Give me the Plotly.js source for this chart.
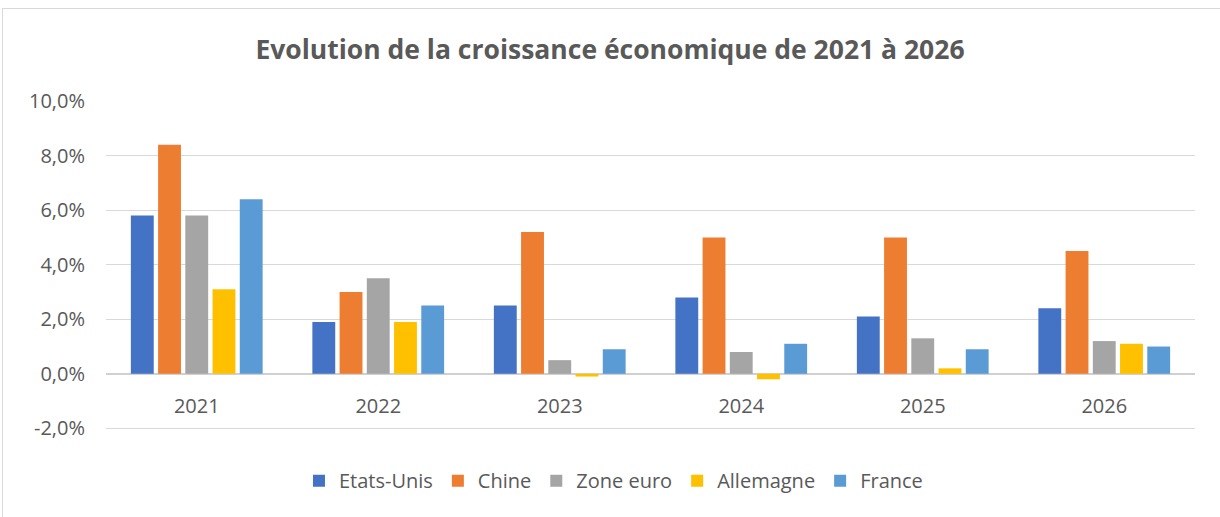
<!DOCTYPE html>
<html><head><meta charset="utf-8">
<script src="https://cdn.plot.ly/plotly-3.0.1.min.js"></script>
<style>
html,body{margin:0;padding:0;background:#fff;}
#wrap{position:relative;width:1220px;height:517px;overflow:hidden;}
#frame{position:absolute;left:2px;top:8px;width:1240px;height:540px;border:1px solid #d9d9d9;box-sizing:border-box;pointer-events:none;}
#chart{position:absolute;left:0;top:0;width:1220px;height:517px;}
</style></head>
<body><div id="wrap"><div id="chart"></div><div id="frame"></div></div>
<script>
const years = ['2021','2022','2023','2024','2025','2026'];
const etatsUnis = [5.8, 1.9, 2.5, 2.8, 2.1, 2.4];
const chine = [8.4, 3.0, 5.2, 5.0, 5.0, 4.5];
const zoneEuro = [5.8, 3.5, 0.5, 0.8, 1.3, 1.2];
const allemagne = [3.1, 1.9, -0.1, -0.2, 0.2, 1.1];
const france = [6.4, 2.5, 0.9, 1.1, 0.9, 1.0];
const tickVals = [-2, 0, 2, 4, 6, 8, 10];
const tickLabels = ['-2,0%','0,0%','2,0%','4,0%','6,0%','8,0%','10,0%'];

const series = [
  ['Etats-Unis', etatsUnis, '#4472c4'],
  ['Chine', chine, '#ed7d31'],
  ['Zone euro', zoneEuro, '#a5a5a5'],
  ['Allemagne', allemagne, '#ffc000'],
  ['France', france, '#5b9bd5']
];
const data = series.map(s => ({
  type: 'bar', name: s[0], x: years, y: s[1],
  marker: {color: s[2], line: {width: 0}},
  hoverinfo: 'x+y+name'
}));
const font = '"Open Sans", "Liberation Sans", sans-serif';
const layout = {
  width: 1220, height: 517,
  margin: {l: 106, r: 25, t: 101, b: 87},
  paper_bgcolor: '#fff', plot_bgcolor: '#fff',
  font: {family: font, color: '#595959', size: 20},
  title: {text: '<b>Evolution de la croissance économique de 2021 à 2026</b>',
    font: {family: font, size: 26.5, color: '#595959'}, x: 0.5, xanchor: 'center', y: 0.903, yanchor: 'middle'},
  barmode: 'group', bargap: 0.25, bargroupgap: 0.16,
  xaxis: {type: 'category', showgrid: false, showline: false, ticks: '', tickfont: {size: 20, color: '#595959'},
    ticklabelstandoff: -38, fixedrange: true},
  yaxis: {range: [-2.06, 10], tickvals: tickVals, ticktext: tickLabels, showgrid: true, gridcolor: '#d9d9d9', gridwidth: 1,
    zeroline: true, zerolinecolor: '#d0d0d0', zerolinewidth: 1.5, showline: false, ticks: '',
    tickfont: {size: 20, color: '#595959'}, ticklabelstandoff: 20, automargin: false},
  showlegend: true,
  legend: {orientation: 'h', x: 0.466, xanchor: 'center', y: -0.154, yanchor: 'middle',
    font: {size: 20, color: '#595959'}, itemwidth: 30, traceorder: 'normal'}
};
Plotly.newPlot('chart', data, layout, {displayModeBar: false, staticPlot: true});
</script></body></html>
